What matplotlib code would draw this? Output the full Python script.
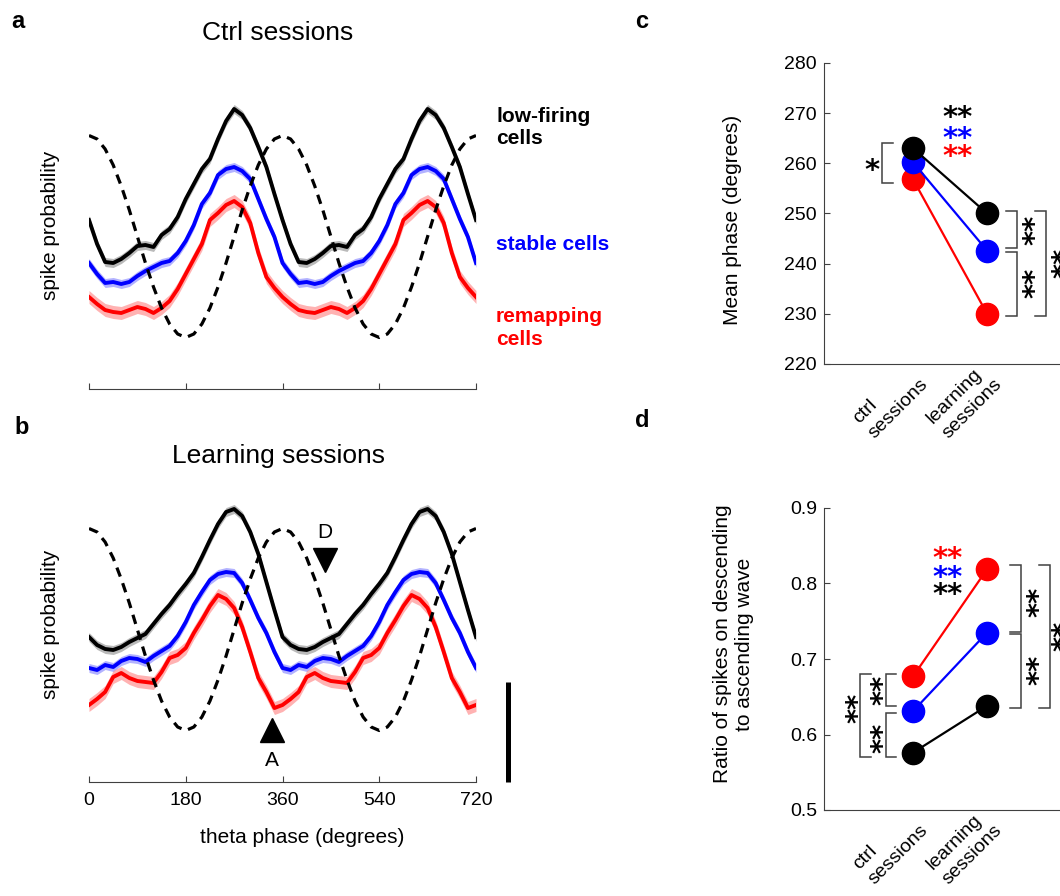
import numpy as np
import matplotlib
matplotlib.use('Agg')
import matplotlib.pyplot as plt
from matplotlib.transforms import offset_copy

plt.rcParams['font.family'] = ['Liberation Sans', 'DejaVu Sans']

W, H = 1060, 896

# phase bins of one theta cycle (degrees); the cycle is shown twice
phase_bins = np.arange(0, 360, 15)

# reference theta wave (arbitrary units, same scale as spike curves)
theta_wave = [2.535, 2.50, 2.40, 2.24, 2.03, 1.79, 1.525, 1.26, 1.02, 0.81, 0.65, 0.55,
              0.515, 0.55, 0.65, 0.81, 1.02, 1.26, 1.525, 1.79, 2.03, 2.24, 2.40, 2.50]

# spike probability per phase bin (scale bar = 1 unit)
ctrl_lowfiring = [1.69, 1.45, 1.27, 1.26, 1.30, 1.36, 1.43, 1.44, 1.42, 1.54, 1.60, 1.72,
                  1.90, 2.05, 2.20, 2.30, 2.50, 2.68, 2.80, 2.74, 2.61, 2.42, 2.22, 1.95]
ctrl_stable = [1.26, 1.15, 1.06, 1.07, 1.05, 1.07, 1.13, 1.18, 1.22, 1.26, 1.28, 1.36,
               1.48, 1.64, 1.85, 1.96, 2.14, 2.20, 2.22, 2.18, 2.10, 1.90, 1.70, 1.52]
ctrl_remapping = [0.92, 0.85, 0.79, 0.77, 0.76, 0.79, 0.82, 0.80, 0.76, 0.81, 0.88, 1.00,
                  1.15, 1.30, 1.45, 1.69, 1.76, 1.84, 1.88, 1.82, 1.66, 1.36, 1.12, 1.01]

learn_lowfiring = [1.45, 1.37, 1.33, 1.32, 1.35, 1.40, 1.44, 1.48, 1.58, 1.68, 1.77, 1.88,
                   1.98, 2.09, 2.25, 2.42, 2.58, 2.70, 2.73, 2.66, 2.50, 2.28, 2.00, 1.72]
learn_stable = [1.14, 1.12, 1.17, 1.15, 1.21, 1.24, 1.23, 1.20, 1.26, 1.31, 1.36, 1.46,
                1.60, 1.77, 1.90, 2.02, 2.08, 2.10, 2.09, 1.99, 1.82, 1.64, 1.49, 1.30]
learn_remapping = [0.77, 0.83, 0.90, 1.05, 1.09, 1.04, 1.01, 1.00, 0.99, 1.10, 1.24, 1.27,
                   1.34, 1.49, 1.62, 1.76, 1.87, 1.83, 1.74, 1.55, 1.30, 1.04, 0.90, 0.74]

# s.e.m. half widths: low-firing, stable, remapping
sem_width = [0.045, 0.045, 0.065]

groups = ['low-firing', 'stable', 'remapping']
colors = ['black', '#0000ff', '#ff0000']
band_colors = ['#8c8c8c', '#8080ff', '#ff8080']

# mean phase (degrees): ctrl, learning
phase_lowfiring = [263.0, 250.0]
phase_stable = [260.2, 242.6]
phase_remapping = [256.8, 230.0]

# descending / ascending spike ratio: ctrl, learning
ratio_lowfiring = [0.576, 0.638]
ratio_stable = [0.631, 0.735]
ratio_remapping = [0.677, 0.819]

session_labels = ['ctrl\nsessions', 'learning\nsessions']

GRAY = '#404040'
STAR_SIZE = 21


def fx(px):
    return px / W


def fy(py):
    return 1 - py / H


def rect(left, top, right, bottom):
    return [fx(left), fy(bottom), (right - left) / W, (bottom - top) / H]


def two_cycles(vals):
    x = np.append(np.concatenate([phase_bins, phase_bins + 360]), 720)
    y = np.append(np.tile(vals, 2), vals[0])
    return x, y


def phase_panel(ax, curves, labels=True):
    for vals, c, bc, w in zip(curves, colors, band_colors, sem_width):
        x, y = two_cycles(vals)
        ax.fill_between(x, y - w, y + w, color=bc, alpha=0.6, lw=0)
        ax.plot(x, y, color=c, lw=2.8)
    x, y = two_cycles(theta_wave)
    ax.plot(x, y, color='black', lw=2.3, dashes=(3.0, 2.2))
    ax.set_xlim(0, 720)
    ax.set_ylim(0, 3.0)
    for s in ['top', 'right', 'left']:
        ax.spines[s].set_visible(False)
    ax.spines['bottom'].set_color(GRAY)
    ax.set_yticks([])
    ax.set_xticks([0, 180, 360, 540, 720])
    ax.tick_params(axis='x', direction='in', length=4, color=GRAY,
                   labelsize=14, pad=7, labelbottom=labels)


def bracket(ax, x_arm, x_bar, y0, y1):
    ax.plot([x_arm, x_bar, x_bar, x_arm], [y0, y0, y1, y1], color=GRAY,
            lw=1.1, clip_on=False, solid_joinstyle='miter')


def stars(ax, x, y, color='black', rot=0, s='**'):
    # asterisks sit high on the line: shift the baseline so the glyphs
    # are centred on (x, y)
    lift = 0.55 * STAR_SIZE * 100 / 72
    if rot:
        tr = offset_copy(ax.transData, fig=ax.figure, x=lift, y=0, units='dots')
    else:
        tr = offset_copy(ax.transData, fig=ax.figure, x=0, y=-lift, units='dots')
    ax.text(x, y, s, color=color, fontsize=STAR_SIZE, fontweight='bold',
            ha='center', va='baseline', rotation=rot, rotation_mode='anchor',
            family='DejaVu Sans', transform=tr, clip_on=False)


def session_panel(ax, series, ylim, yticks):
    for vals, c in zip(series[::-1], colors[::-1]):
        ax.plot([1, 2], vals, color=c, lw=1.6, marker='o', ms=16, mec=c, mfc=c)
    ax.set_xlim(-0.203, 3.93)
    ax.set_ylim(*ylim)
    ax.set_yticks(yticks)
    ax.set_xticks([])
    for s in ['top', 'right']:
        ax.spines[s].set_visible(False)
    for s in ['left', 'bottom']:
        ax.spines[s].set_color(GRAY)
    ax.tick_params(axis='y', direction='in', length=4, color=GRAY,
                   labelsize=14, pad=5)
    for xi, lab in zip([1.06, 2.06], session_labels):
        ax.text(xi, -0.035, lab, transform=ax.get_xaxis_transform(),
                rotation=45, rotation_mode='anchor', ha='right', va='center',
                multialignment='left', fontsize=14, linespacing=1.3)


fig = plt.figure(figsize=(W / 100, H / 100), dpi=100)

# a: ctrl sessions
ax_a = fig.add_axes(rect(89, 89, 476, 389))
phase_panel(ax_a, [ctrl_lowfiring, ctrl_stable, ctrl_remapping], labels=False)

# b: learning sessions
ax_b = fig.add_axes(rect(89, 482, 476, 782))
phase_panel(ax_b, [learn_lowfiring, learn_stable, learn_remapping])
ax_b.plot([439], [2.22], marker='v', color='black', ms=17)
ax_b.text(439, 2.50, 'D', fontsize=15, ha='center', va='center')
ax_b.plot([340], [0.52], marker='^', color='black', ms=17)
ax_b.text(340, 0.22, 'A', fontsize=15, ha='center', va='center')
ax_b.plot([779, 779], [0, 1.0], color='black', lw=3.6, clip_on=False,
          solid_capstyle='butt')

fig.text(fx(278), fy(33), 'Ctrl sessions', fontsize=19, ha='center', va='center')
fig.text(fx(278), fy(456), 'Learning sessions', fontsize=19, ha='center', va='center')
for yc in [225, 624]:
    fig.text(fx(50), fy(yc), 'spike probability', fontsize=15, rotation=90,
             ha='center', va='center')
fig.text(fx(302), fy(837), 'theta phase (degrees)', fontsize=15,
         ha='center', va='center')

fig.text(fx(496), fy(127), 'low-firing\ncells', fontsize=15, fontweight='bold',
         color=colors[0], ha='left', va='center', linespacing=1.2)
fig.text(fx(496), fy(245), 'stable cells', fontsize=15, fontweight='bold',
         color=colors[1], ha='left', va='center')
fig.text(fx(496), fy(328), 'remapping\ncells', fontsize=15, fontweight='bold',
         color=colors[2], ha='left', va='center', linespacing=1.25)

# c: mean phase
ax_c = fig.add_axes(rect(824, 63, 1130, 364))
session_panel(ax_c, [phase_lowfiring, phase_stable, phase_remapping],
              (220, 280), range(220, 281, 10))
fig.text(fx(733), fy(220), 'Mean phase (degrees)', fontsize=15, rotation=90,
         ha='center', va='center')
for yv, c in zip([270.6, 266.5, 262.9], colors):
    stars(ax_c, 1.595, yv, c)
bracket(ax_c, 0.730, 0.581, 264.0, 256.0)
stars(ax_c, 0.446, 260.1, s='*')
bracket(ax_c, 2.257, 2.405, 250.5, 243.1)
stars(ax_c, 2.54, 246.7, rot=90)
bracket(ax_c, 2.257, 2.405, 242.4, 229.6)
stars(ax_c, 2.54, 236.2, rot=90)
bracket(ax_c, 2.649, 2.797, 250.5, 229.6)
stars(ax_c, 2.93, 240.2, rot=90)

# d: descending / ascending ratio
ax_d = fig.add_axes(rect(824, 508, 1130, 810))
session_panel(ax_d, [ratio_lowfiring, ratio_stable, ratio_remapping],
              (0.5, 0.9), [0.5, 0.6, 0.7, 0.8, 0.9])
fig.text(fx(733), fy(644), 'Ratio of spikes on descending\nto ascending wave',
         fontsize=15, rotation=90, ha='center', va='center', linespacing=1.2)
for yv, c in zip([0.843, 0.818, 0.795], [colors[2], colors[1], colors[0]]):
    stars(ax_d, 1.46, yv, c)
bracket(ax_d, 0.767, 0.63, 0.680, 0.638)
stars(ax_d, 0.493, 0.659, rot=90)
bracket(ax_d, 0.767, 0.63, 0.628, 0.570)
stars(ax_d, 0.493, 0.595, rot=90)
bracket(ax_d, 0.438, 0.288, 0.680, 0.570)
stars(ax_d, 0.151, 0.635, rot=90)
bracket(ax_d, 2.315, 2.452, 0.825, 0.736)
stars(ax_d, 2.603, 0.776, rot=90)
bracket(ax_d, 2.315, 2.452, 0.733, 0.635)
stars(ax_d, 2.603, 0.686, rot=90)
bracket(ax_d, 2.70, 2.85, 0.825, 0.635)
stars(ax_d, 2.94, 0.730, rot=90)

for lab, (px, py) in zip('abcd', [(18, 22), (22, 427), (642, 22), (642, 420)]):
    fig.text(fx(px), fy(py), lab, fontsize=17, fontweight='bold',
             ha='center', va='center')

fig.savefig('out.png', dpi=100)
